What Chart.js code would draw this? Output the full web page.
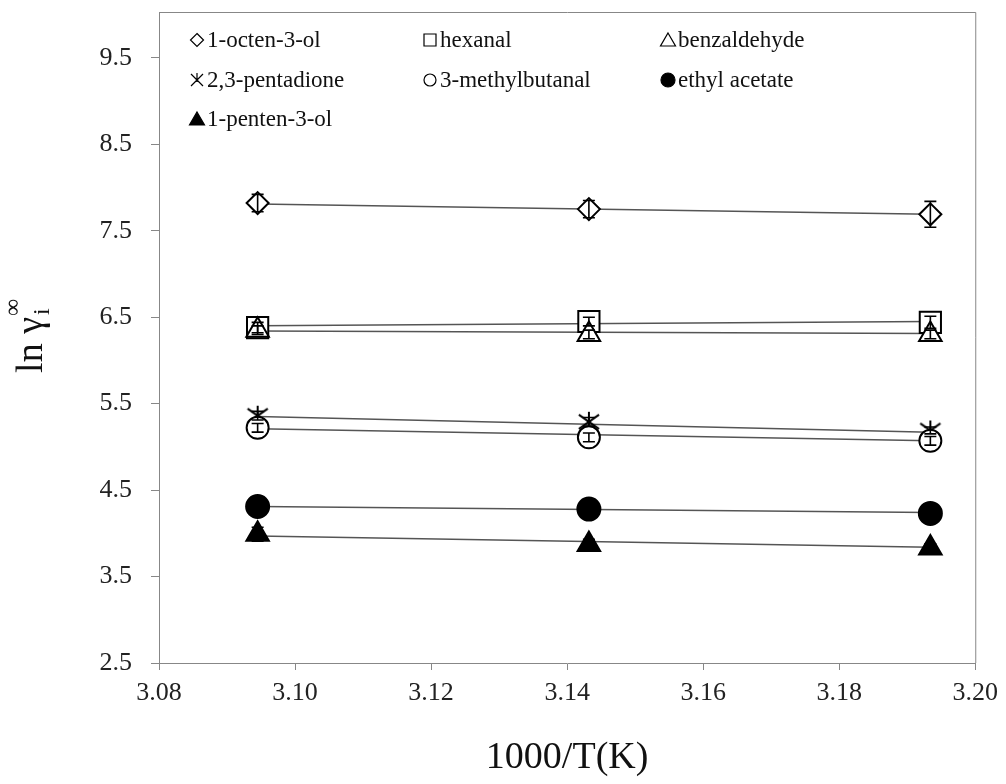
<!DOCTYPE html>
<html>
<head>
<meta charset="utf-8">
<script src="https://cdn.jsdelivr.net/npm/chart.js@4.4.0/dist/chart.umd.min.js"></script>
<style>
  html, body { margin: 0; padding: 0; background: #fff; }
  #wrap { width: 1006px; height: 784px; position: relative; }
</style>
</head>
<body>
<div id="wrap"><canvas id="gamma__chart"></canvas></div>
<script>
// values
const xValues = [3.0945, 3.1432, 3.1934];
const xTicks = [3.08, 3.10, 3.12, 3.14, 3.16, 3.18, 3.20];
const yTicks = [2.5, 3.5, 4.5, 5.5, 6.5, 7.5, 8.5, 9.5];

const names = ['1-octen-3-ol', 'hexanal', 'benzaldehyde', '2,3-pentadione',
  '3-methylbutanal', 'ethyl acetate', '1-penten-3-ol'];

const octenol = [7.82, 7.75, 7.69];
const hexanal = [6.38, 6.45, 6.44];
const benzaldehyde = [6.35, 6.30, 6.30];
const pentadione = [5.36, 5.29, 5.19];
const methylbutanal = [5.22, 5.11, 5.07];
const ethylAcetate = [4.31, 4.28, 4.23];
const pentenol = [3.99, 3.87, 3.83];

const octenolErr = [0.10, 0.10, 0.15];
const hexanalErr = [0.06, 0.05, 0.07];
const benzaldehydeErr = [0.05, 0.05, 0.05];
const pentadioneErr = [0.05, 0.05, 0.04];
const methylbutanalErr = [0.05, 0.05, 0.05];
const ethylAcetateErr = [0.04, 0.03, 0.03];
const pentenolErr = [0.08, 0.06, 0.05];

// trend line ends (first and last x)
const octenolFit = [7.81, 7.69];
const hexanalFit = [6.40, 6.45];
const benzaldehydeFit = [6.34, 6.31];
const pentadioneFit = [5.35, 5.17];
const methylbutanalFit = [5.21, 5.07];
const ethylAcetateFit = [4.31, 4.24];
const pentenolFit = [3.97, 3.84];

const series = [octenol, hexanal, benzaldehyde, pentadione, methylbutanal, ethylAcetate, pentenol];
const errors = [octenolErr, hexanalErr, benzaldehydeErr, pentadioneErr, methylbutanalErr, ethylAcetateErr, pentenolErr];
const fits = [octenolFit, hexanalFit, benzaldehydeFit, pentadioneFit, methylbutanalFit, ethylAcetateFit, pentenolFit];

const serif = "'Liberation Serif', 'Times New Roman', serif";

function asterisk(size) {
  const c = document.createElement('canvas');
  c.width = size; c.height = size;
  const g = c.getContext('2d');
  const h = size / 2, a = size * 0.42;
  g.strokeStyle = '#000';
  g.lineWidth = 2;
  g.beginPath();
  g.moveTo(h, h - a); g.lineTo(h, h + a * 0.3);
  g.moveTo(h - a, h - a * 0.7); g.lineTo(h + a, h + a * 0.7);
  g.moveTo(h + a, h - a * 0.7); g.lineTo(h - a, h + a * 0.7);
  g.stroke();
  return c;
}

const markers = [
  { style: 'rectRot', radius: 11, fill: '#fff' },
  { style: 'rect', radius: 15, fill: '#fff' },
  { style: 'triangle', radius: 13, fill: '#fff' },
  { style: asterisk(24), radius: 12, fill: '#fff' },
  { style: 'circle', radius: 11, fill: '#fff' },
  { style: 'circle', radius: 11.5, fill: '#000' },
  { style: 'triangle', radius: 13, fill: '#000' }
];

const datasets = [];
series.forEach((vals, i) => {
  datasets.push({
    label: names[i],
    data: vals.map((v, k) => ({ x: xValues[k], y: v })),
    showLine: false,
    pointStyle: markers[i].style,
    pointRadius: markers[i].radius,
    pointBackgroundColor: markers[i].fill,
    pointBorderColor: '#000',
    pointBorderWidth: 2,
    order: 7 - i,
    errors: errors[i]
  });
});
fits.forEach((f, i) => {
  datasets.push({
    label: names[i] + ' fit',
    data: [{ x: xValues[0], y: f[0] }, { x: xValues[2], y: f[1] }],
    showLine: true,
    borderColor: '#555',
    borderWidth: 1.5,
    pointRadius: 0,
    order: 100
  });
});

function legendMarker(ctx, i, x, y) {
  ctx.save();
  ctx.strokeStyle = '#000';
  ctx.fillStyle = markers[i].fill;
  ctx.lineWidth = 1.2;
  ctx.beginPath();
  const r = 6.5;
  if (i === 0) {
    ctx.moveTo(x, y - r); ctx.lineTo(x + r, y); ctx.lineTo(x, y + r); ctx.lineTo(x - r, y); ctx.closePath();
  } else if (i === 1) {
    ctx.rect(x - 6, y - 6, 12, 12);
  } else if (i === 2 || i === 6) {
    ctx.moveTo(x, y - 7); ctx.lineTo(x + 7.5, y + 6); ctx.lineTo(x - 7.5, y + 6); ctx.closePath();
  } else if (i === 3) {
    ctx.moveTo(x, y - 7); ctx.lineTo(x, y + 2);
    ctx.moveTo(x - 6, y - 6); ctx.lineTo(x + 6, y + 6);
    ctx.moveTo(x + 6, y - 6); ctx.lineTo(x - 6, y + 6);
    ctx.stroke(); ctx.restore(); return;
  } else {
    ctx.arc(x, y, i === 5 ? 7 : 6, 0, Math.PI * 2);
  }
  ctx.fill();
  ctx.stroke();
  ctx.restore();
}

const extras = {
  id: 'extras',
  afterDatasetsDraw(chart) {
    const ctx = chart.ctx;
    const xs = chart.scales.x, ys = chart.scales.y;
    ctx.save();
    ctx.strokeStyle = '#000';
    ctx.lineWidth = 1.6;
    chart.data.datasets.forEach(ds => {
      if (!ds.errors) return;
      ds.data.forEach((p, k) => {
        const px = xs.getPixelForValue(p.x);
        const top = ys.getPixelForValue(p.y + ds.errors[k]);
        const bot = ys.getPixelForValue(p.y - ds.errors[k]);
        ctx.beginPath();
        ctx.moveTo(px, top); ctx.lineTo(px, bot);
        ctx.moveTo(px - 6, top); ctx.lineTo(px + 6, top);
        ctx.moveTo(px - 6, bot); ctx.lineTo(px + 6, bot);
        ctx.stroke();
      });
    });
    ctx.restore();
  },
  afterDraw(chart) {
    const ctx = chart.ctx;
    const a = chart.chartArea;
    ctx.save();
    // top and right frame
    ctx.strokeStyle = '#878787';
    ctx.lineWidth = 1;
    ctx.beginPath();
    ctx.moveTo(a.left, a.top + 0.5); ctx.lineTo(a.right + 0.5, a.top + 0.5); ctx.lineTo(a.right + 0.5, a.bottom);
    ctx.stroke();

    // legend, three per row
    const cols = [197, 430, 668];
    const rows = [40, 80, 119];
    ctx.font = '23px ' + serif;
    ctx.fillStyle = '#111';
    ctx.textBaseline = 'middle';
    ctx.textAlign = 'left';
    names.forEach((n, i) => {
      const cx = cols[i % 3], cy = rows[Math.floor(i / 3)];
      legendMarker(ctx, i, cx, cy);
      ctx.fillStyle = '#111';
      ctx.fillText(n, cx + 10, cy + 1);
    });

    // x title
    ctx.font = '38px ' + serif;
    ctx.textAlign = 'center';
    ctx.fillText('1000/T(K)', (a.left + a.right) / 2, 758);

    // y title: ln γ with subscript i and superscript ∞
    ctx.translate(42, 338);
    ctx.rotate(-Math.PI / 2);
    ctx.textAlign = 'left';
    ctx.textBaseline = 'alphabetic';
    ctx.font = '38px ' + serif;
    const main = 'ln \u03b3';
    const w = ctx.measureText(main).width;
    const x0 = -(w + 14) / 2;
    ctx.fillText(main, x0, 0);
    ctx.font = '24px ' + serif;
    ctx.fillText('i', x0 + w + 2, 7);
    ctx.fillText('\u221e', x0 + w + 1, -22);
    ctx.restore();
  }
};

const config = {
  type: 'scatter',
  data: { datasets },
  options: {
    responsive: true,
    maintainAspectRatio: false,
    animation: false,
    layout: { autoPadding: false, padding: { left: 0, right: 30, top: 12, bottom: 0 } },
    plugins: { legend: { display: false }, tooltip: { enabled: false } },
    scales: {
      x: {
        type: 'linear',
        min: 3.08,
        max: 3.20,
        afterBuildTicks: axis => { axis.ticks = xTicks.map(v => ({ value: v })); },
        afterFit: scale => { scale.height = 121; },
        grid: { drawOnChartArea: false, drawTicks: true, tickLength: 7, color: '#878787' },
        border: { color: '#878787' },
        ticks: {
          padding: 8,
          color: '#222',
          font: { family: serif, size: 26 },
          callback: v => v.toFixed(2),
          maxRotation: 0
        }
      },
      y: {
        min: 2.5,
        max: 10.03,
        afterBuildTicks: axis => { axis.ticks = yTicks.map(v => ({ value: v })); },
        afterFit: scale => { scale.width = 159; scale.paddingTop = 0; scale.paddingBottom = 0; },
        grid: { drawOnChartArea: false, drawTicks: true, tickLength: 8, color: '#878787' },
        border: { color: '#878787' },
        ticks: {
          padding: 19,
          color: '#222',
          font: { family: serif, size: 26 },
          callback: v => v.toFixed(1)
        }
      }
    }
  },
  plugins: [extras]
};

var gammaChart = new Chart(document.getElementById('gamma__chart'), config);
</script>
</body>
</html>
